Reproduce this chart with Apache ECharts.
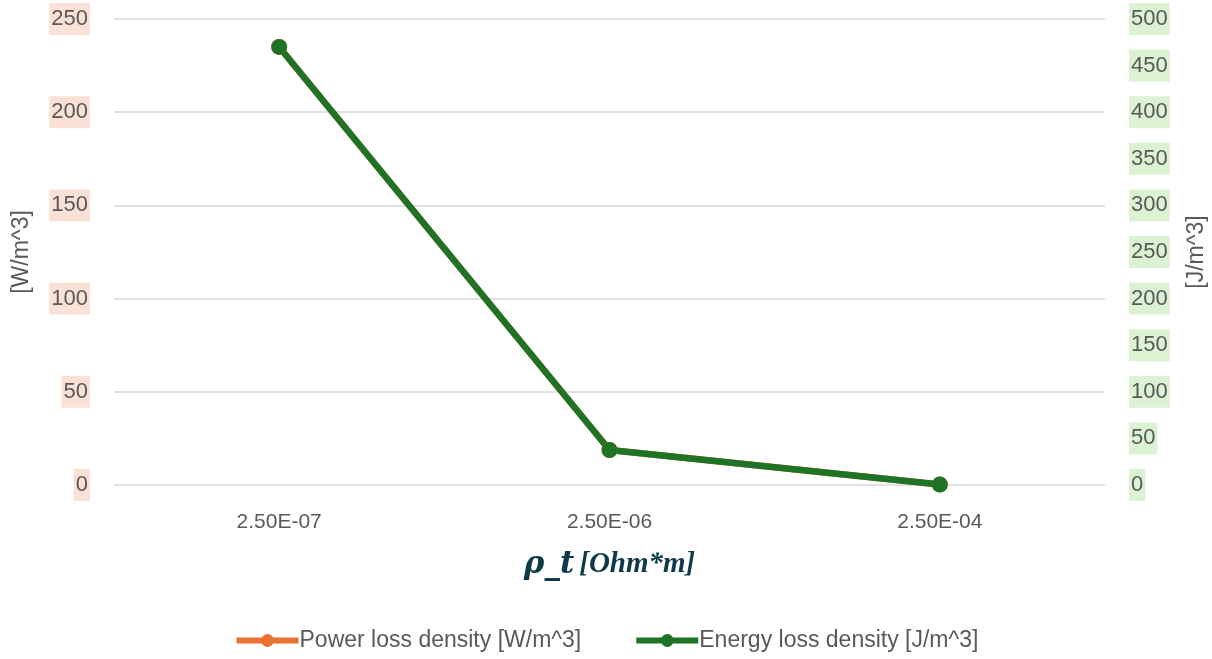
<!DOCTYPE html>
<html><head><meta charset="utf-8">
<script src="https://cdn.jsdelivr.net/npm/echarts@6/dist/echarts.min.js"></script>
<style>html,body{margin:0;padding:0;background:#fff}#c{width:1212px;height:659px}</style>
</head><body><div id="c"></div>
<script>
const categories = ['2.50E-07', '2.50E-06', '2.50E-04'];
const powerLoss = [235, 18.8, 0.3];
const energyLoss = [470, 37.5, 0.5];
const leftTicks = [0, 50, 100, 150, 200, 250];
const rightTicks = [0, 50, 100, 150, 200, 250, 300, 350, 400, 450, 500];

const SANS = "'Liberation Sans', Arial, sans-serif";
const chart = echarts.init(document.getElementById('c'));
chart.setOption({
  animation: false,
  grid: { left: 114, right: 107, top: 19, bottom: 174, containLabel: false, outerBoundsMode: 'none' },
  legend: {
    bottom: 2, left: 'center', itemWidth: 62, itemHeight: 16, itemGap: 52,
    lineStyle: { width: 6 },
    textStyle: { fontFamily: SANS, fontSize: 23, color: '#595959', padding: [0, 0, 0, -4] },
    data: ['Power loss density [W/m^3]', 'Energy loss density [J/m^3]']
  },
  xAxis: {
    type: 'category', data: categories, boundaryGap: true,
    axisLine: { show: false }, axisTick: { show: false },
    axisLabel: { color: '#595959', fontSize: 21, fontFamily: SANS, margin: 27 },
    name: '{a|ρ_t}{b|[Ohm*m]}', nameLocation: 'middle', nameGap: 64,
    nameTextStyle: {
      rich: {
        a: { fontFamily: "'DejaVu Serif', serif", fontStyle: 'italic', fontWeight: 'bold', fontSize: 31, color: '#0e3a4a', padding: [0, 5, 0, 0] },
        b: { fontFamily: "'Liberation Serif', serif", fontStyle: 'italic', fontWeight: 'bold', fontSize: 29, color: '#0e3a4a' }
      }
    }
  },
  yAxis: [
    {
      type: 'value', min: 0, max: 250, interval: 50, position: 'left',
      axisLine: { show: false }, axisTick: { show: false },
      splitLine: { lineStyle: { color: '#d9d9d9', width: 1.5 } },
      axisLabel: { color: '#595959', fontSize: 22, fontFamily: SANS, margin: 24, backgroundColor: '#fae1d6', padding: [5, 2, 5, 2],
        formatter: v => leftTicks.includes(v) ? String(v) : '' },
      name: '[W/m^3]', nameLocation: 'middle', nameGap: 81, nameRotate: 90,
      nameTextStyle: { color: '#595959', fontSize: 23, fontFamily: SANS }
    },
    {
      type: 'value', min: 0, max: 500, interval: 50, position: 'right',
      axisLine: { show: false }, axisTick: { show: false }, splitLine: { show: false },
      axisLabel: { color: '#595959', fontSize: 22, fontFamily: SANS, margin: 24, backgroundColor: '#dcf3d3', padding: [5, 2, 5, 2],
        formatter: v => rightTicks.includes(v) ? String(v) : '' },
      name: '[J/m^3]', nameLocation: 'middle', nameGap: 80, nameRotate: 90,
      nameTextStyle: { color: '#595959', fontSize: 23, fontFamily: SANS }
    }
  ],
  series: [
    {
      name: 'Power loss density [W/m^3]', type: 'line', yAxisIndex: 0, data: powerLoss,
      symbol: 'circle', symbolSize: 16, color: '#e97132',
      lineStyle: { width: 6.5, color: '#e97132' }, itemStyle: { color: '#e97132' }
    },
    {
      name: 'Energy loss density [J/m^3]', type: 'line', yAxisIndex: 1, data: energyLoss,
      symbol: 'circle', symbolSize: 16, color: '#1e7324',
      lineStyle: { width: 6.5, color: '#1e7324' }, itemStyle: { color: '#1e7324' }
    }
  ]
});
</script></body></html>
